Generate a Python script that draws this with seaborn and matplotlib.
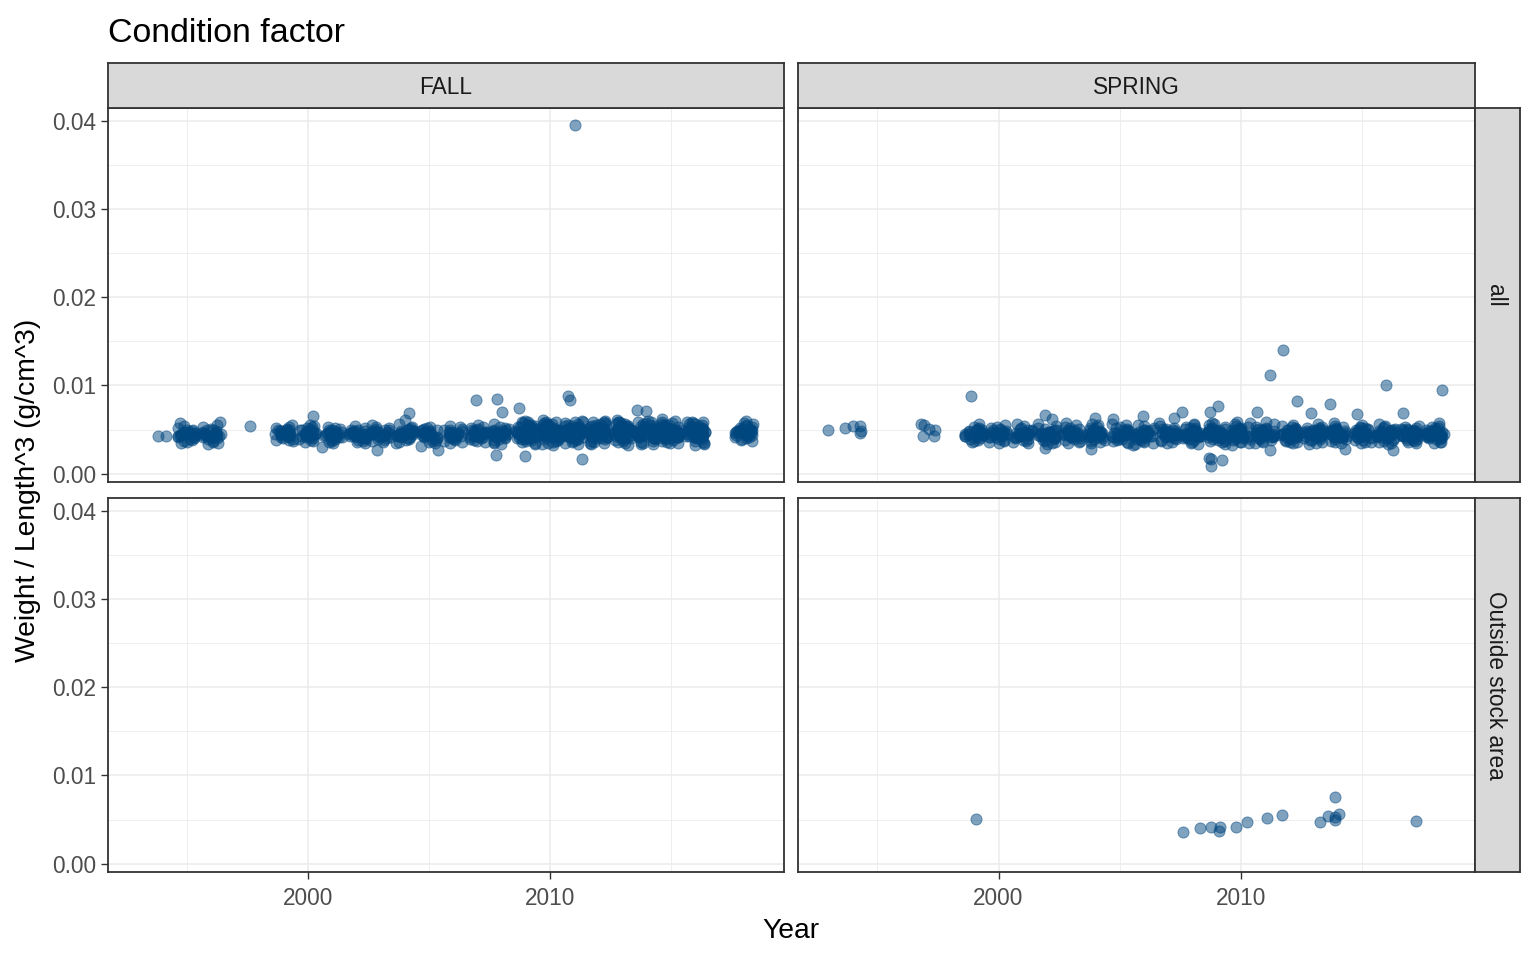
import matplotlib
matplotlib.use("Agg")
import matplotlib.pyplot as plt
import numpy as np
import pandas as pd
import seaborn as sns

# band of fish per survey year, values in 1e-4 g/cm^3
fall_all = {
    1995: "44 41 47 38 45 50 43 36 46 42 48 57 44 40 45 39 52 43 47 35 46 49 54 37",
    1996: "45 42 48 37 44 51 43 35 46 41 49 58 45 39 44 40 53 42 47 34 46 50 44 43 55 36",
    1999: "47 44 50 40 46 52 45 38 48 43 49 55 46 41 45 42 51 44 47 37 48 53 39 45 49",
    2000: "46 43 49 39 45 52 44 37 47 42 50 54 45 40 46 41 53 43 48 36 47 44 51 38 55 45",
    2001: "45 42 47 38 44 50 43 36 46 41 48 53 44 39 45 40 51 42 46 35 47 43 49 37 52 44",
    2002: "44 41 48 37 45 49 43 35 46 40 47 54 44 38 45 41 50 42 47 36 46 43 44 52 39 48",
    2003: "45 43 49 38 46 51 44 37 47 42 48 55 45 40 46 41 52 43 48 36 47 44 50 39 53 45",
    2004: "46 43 48 39 45 52 44 36 47 42 50 56 45 40 46 41 53 43 48 35 47 44 45 51 38 49",
    2005: "45 42 48 38 44 50 43 35 46 41 49 53 44 39 45 40 51 42 47 36 46 52 37 44 48",
    2006: "44 41 47 37 45 51 43 36 46 40 48 54 44 38 45 41 50 42 47 35 46 43 53 39 49 45",
    2007: "45 42 49 38 46 52 44 37 47 41 48 55 45 39 46 42 51 43 48 36 47 44 50 40 53 45",
    2008: "46 43 48 39 45 51 44 36 47 42 50 56 45 40 46 41 52 43 48 35 47 44 45 34 53 49 38",
    2009: "47 44 51 40 48 55 46 38 49 43 52 58 47 41 48 42 54 45 50 36 49 46 47 44 53 39 60 45 50 43 57 34 "
          "46 48 42 51 44 47 39 50 45 53 56 37 49 41 52 46 35 58 43 48 54 40",
    2010: "48 45 50 41 47 56 46 37 49 44 53 59 47 42 48 43 55 45 51 35 50 46 48 44 52 40 61 46 49 42 56 33 "
          "47 45 41 52 48 44 38 50 46 54 57 36 49 43 51 47 34 59 44 50 55 39",
    2011: "47 44 52 40 48 54 46 38 50 43 51 58 47 41 49 42 55 45 50 36 48 46 47 44 53 39 59 45 51 43 57 35 "
          "46 48 43 50 45 47 40 52 44 49 56 37 48 42 53 46 34 60 45 49 54 41",
    2012: "48 45 51 41 47 55 46 37 49 44 52 60 48 42 48 43 54 46 50 35 49 47 47 44 53 40 58 45 50 42 56 34 "
          "47 45 42 51 46 48 39 50 44 53 57 36 50 43 52 47 35 59 44 48 55 40",
    2013: "47 44 50 40 48 56 46 38 49 43 53 59 47 41 48 42 55 45 51 36 50 46 48 44 52 39 61 46 49 43 57 33 "
          "46 48 42 50 45 47 40 51 44 54 56 37 49 42 52 46 35 58 45 50 54 41",
    2014: "48 45 52 41 47 54 46 37 50 44 51 58 47 42 49 43 54 45 50 35 48 46 47 44 53 40 60 45 51 42 56 34 "
          "47 45 43 52 46 48 39 50 44 49 57 36 48 43 53 47 34 59 44 49 55 40",
    2015: "47 44 51 40 48 55 46 38 49 43 52 59 48 41 48 42 55 46 50 36 49 47 48 44 53 39 62 45 50 43 57 35 "
          "46 48 42 51 45 47 40 50 44 53 56 37 49 42 52 46 35 60 45 50 54 41",
    2016: "48 45 50 41 47 56 46 37 49 44 53 58 47 42 48 43 54 45 51 35 50 46 47 44 52 40 59 46 49 42 56 33 "
          "47 45 43 51 46 48 39 50 44 52 57 36 48 43 53 47 34 58 44 49 55 40",
    2018: "48 45 51 41 47 55 46 38 49 44 52 60 47 42 48 43 54 45 50 37 49 46 57 40 47 51 44 53 39 48 56 46",
}
spring_all = {
    1999: "46 43 49 39 45 53 44 37 47 42 50 56 45 40 46 41 52 43 48 36 44 51 38 47",
    2000: "45 42 48 38 46 51 44 36 47 41 49 55 45 39 46 42 52 43 47 35 44 46 50 37 53",
    2001: "45 43 49 38 44 52 44 37 46 41 48 56 45 40 46 42 51 43 47 36 45 44 50 39 54 35",
    2002: "44 42 48 37 45 50 43 35 46 40 47 54 44 39 45 41 51 42 46 36 44 43 49 38 47 45 52 56 34",
    2003: "45 43 47 38 46 52 44 36 47 41 49 55 45 40 46 42 50 43 48 35 44 45 51 39 46 43 53 37 57",
    2004: "46 42 48 39 45 51 43 37 47 41 50 56 45 40 46 42 52 43 47 36 44 45 49 38 53 46 44 55 35",
    2005: "45 43 49 38 44 52 44 36 46 42 48 55 45 39 46 41 51 43 47 35 44 45 50 39 47 43 53 37 56",
    2006: "44 42 48 37 45 50 43 35 47 40 49 54 44 38 45 41 52 42 46 36 44 43 50 39 47 45 43 55 34",
    2007: "45 43 47 38 46 51 44 37 46 41 48 57 45 40 46 42 51 43 48 36 44 45 49 39 52 46 44 54 35",
    2008: "46 42 48 39 45 52 43 36 47 41 50 55 45 40 46 42 52 43 47 35 44 45 50 38 53 44 46 43 48 56 34 51",
    2009: "45 43 49 38 46 51 44 37 46 42 48 56 45 39 46 41 51 43 47 36 44 45 49 39 52 44 47 42 34 55 "
          "45 47 43 50 44 46 40 53 37 48 57 41",
    2010: "46 42 48 39 45 52 43 36 47 41 50 57 45 40 46 42 52 43 48 35 44 45 50 38 53 44 47 43 33 56 "
          "46 44 48 42 51 45 39 54 36 49 58 41",
    2011: "45 43 47 38 46 51 44 37 46 42 49 56 45 40 46 41 51 43 47 36 44 45 49 39 52 44 58 46 43 48 "
          "53 35 50 41",
    2012: "44 42 48 37 45 50 43 35 47 40 48 55 44 38 45 41 52 42 46 36 44 43 50 39 53 45 47 44 49 "
          "54 36 51 42",
    2013: "45 43 49 38 46 52 44 36 46 42 48 56 45 39 46 41 51 43 48 35 44 45 49 38 52 44 47 42 46 "
          "53 34 50 40",
    2014: "46 42 48 39 45 51 43 37 47 41 50 57 45 40 46 42 52 43 47 36 44 45 50 39 53 44 46 48 43 "
          "54 35 49 41",
    2015: "45 43 47 38 46 52 44 36 46 42 49 55 45 40 46 41 51 43 47 35 44 45 49 38 52 44 47 43 46 "
          "53 36 50 40",
    2016: "44 42 48 37 45 50 43 35 47 40 48 56 44 38 45 41 52 42 46 36 44 43 50 39 53 45 46 44 48 "
          "54 34 51 41",
    2017: "45 43 49 38 46 51 44 37 46 42 48 54 45 39 46 41 51 43 48 36 44 45 49 38 52 44 47 43 46 "
          "53 35 50 40",
    2018: "46 42 48 39 45 52 43 36 47 41 50 57 45 40 46 42 52 43 47 35 44 45 50 39 53 44 46 48 43 "
          "54 36 49 41",
}

# isolated fish, read at their plotted (fractional) year
fall_all_x = [1993.8, 1994.1, 1997.6, 1998.65, 2000.2, 2000.55, 2002.86, 2004.17, 2004.0,
              2004.68, 2005.37, 2006.93, 2007.82, 2008.0, 2008.73, 2007.77, 2008.97,
              2010.73, 2010.83, 2011.03, 2011.3, 2013.6, 2013.97]
fall_all_y = [0.0043, 0.0043, 0.00536, 0.00385, 0.00657, 0.0030, 0.00272, 0.00688, 0.0061,
              0.0031, 0.00264, 0.00838, 0.00846, 0.0070, 0.00744, 0.00215, 0.00196,
              0.00884, 0.00838, 0.0395, 0.00166, 0.00718, 0.00706]
spring_all_x = [1992.96, 1993.67, 1993.98, 1994.3, 1994.26, 1994.33, 1996.8, 1996.93, 1997.14,
                1997.38, 1996.9, 1997.34, 1998.86, 2001.9, 2002.19, 2004.0, 2004.74, 2001.9,
                2003.83, 2005.55, 2005.96, 2007.23, 2007.59, 2008.72, 2009.06, 2008.79,
                2008.79, 2009.24, 2008.7, 2010.65, 2011.2, 2011.2, 2011.75, 2012.34, 2012.9,
                2013.69, 2014.3, 2014.78, 2015.98, 2016.27, 2016.68, 2018.29]
spring_all_y = [0.0049, 0.00514, 0.00536, 0.00536, 0.0046, 0.0048, 0.00563, 0.00547, 0.00506,
                0.00499, 0.0043, 0.00423, 0.00876, 0.00669, 0.0062, 0.0063, 0.0062, 0.0029,
                0.0028, 0.0032, 0.0065, 0.0063, 0.00699, 0.00699, 0.00763, 0.00166,
                0.0009, 0.0015, 0.0018, 0.00703, 0.01114, 0.00264, 0.01397, 0.0082, 0.00687,
                0.0079, 0.00283, 0.00676, 0.0100, 0.00264, 0.00687, 0.00944]
spring_out_x = [1999.05, 2007.62, 2008.33, 2008.79, 2009.13, 2009.1, 2009.82, 2010.26, 2011.1,
                2011.72, 2013.29, 2013.6, 2013.88, 2014.06, 2013.91, 2013.88, 2017.22]
spring_out_y = [0.00511, 0.00356, 0.00401, 0.00413, 0.00413, 0.00375, 0.00413, 0.0047, 0.00515,
                0.00553, 0.00477, 0.00538, 0.00753, 0.00564, 0.00526, 0.00496, 0.00481]

seasons = ["FALL", "SPRING"]
areas = ["all", "Outside stock area"]

sns.set_style("white")
plt.rcParams["font.family"] = ["Liberation Sans", "DejaVu Sans"]

PT_COL = "#00467F"
PT_SIZE = 8.0
W, H = 1536, 960


def box(x0, y0, x1, y1):
    return [x0 / W, 1 - y1 / H, (x1 - x0) / W, (y1 - y0) / H]


def band_frame(d):
    rows = [(yr, int(v) / 1e4) for yr, s in d.items() for v in s.split()]
    return pd.DataFrame(rows, columns=["year", "k"])


def strip(rect, label, rot=0):
    sa = fig.add_axes(rect)
    sa.set_facecolor("#D9D9D9")
    sa.set_xticks([])
    sa.set_yticks([])
    for sp in sa.spines.values():
        sp.set_color("#333333")
        sp.set_linewidth(1.3)
    sa.text(0.5 if rot == 0 else 0.45, 0.45 if rot == 0 else 0.5, label, rotation=rot,
            ha="center", va="center", fontsize=16.3, color="#1A1A1A", transform=sa.transAxes)


fig = plt.figure(figsize=(15.36, 9.6), dpi=100)
np.random.seed(11)

cols = [(108, 784), (798, 1475)]
rows = [(108, 482), (498, 872)]

bands = {("FALL", "all"): fall_all, ("SPRING", "all"): spring_all}
singles = {("FALL", "all"): (fall_all_x, fall_all_y),
           ("SPRING", "all"): (spring_all_x, spring_all_y),
           ("SPRING", "Outside stock area"): (spring_out_x, spring_out_y)}

for r, area in enumerate(areas):
    for c, season in enumerate(seasons):
        x0, x1 = cols[c]
        y0, y1 = rows[r]
        ax = fig.add_axes(box(x0, y0, x1, y1))
        key = (season, area)
        if key in bands:
            sns.stripplot(data=band_frame(bands[key]), x="year", y="k", native_scale=True,
                          jitter=0.4, color=PT_COL, alpha=0.5, size=PT_SIZE, linewidth=0.7,
                          edgecolor=PT_COL, ax=ax, zorder=3)
        if key in singles:
            sx, sy = singles[key]
            sns.scatterplot(x=sx, y=sy, color=PT_COL, alpha=0.5, s=PT_SIZE ** 2, linewidth=0.7,
                            edgecolor=PT_COL, ax=ax, zorder=3)
        ax.set_xlim(1991.72, 2019.67)
        ax.set_ylim(-0.00095, 0.04147)
        ax.set_xticks([2000, 2010])
        ax.set_xticks([1995, 2005, 2015], minor=True)
        ax.set_yticks([0.0, 0.01, 0.02, 0.03, 0.04])
        ax.set_yticks([0.005, 0.015, 0.025, 0.035], minor=True)
        ax.set_yticklabels(["0.00", "0.01", "0.02", "0.03", "0.04"])
        ax.grid(True, which="major", color="#EBEBEB", lw=1.1, zorder=0)
        ax.grid(True, which="minor", color="#EBEBEB", lw=0.6, zorder=0)
        ax.set_axisbelow(True)
        ax.set_xlabel("")
        ax.set_ylabel("")
        for sp in ax.spines.values():
            sp.set_color("#333333")
            sp.set_linewidth(1.3)
        ax.tick_params(which="major", direction="out", length=5, width=1.0, color="#333333",
                       labelsize=16.3, labelcolor="#4D4D4D")
        ax.tick_params(axis="x", pad=6)
        ax.tick_params(axis="y", pad=3.5)
        ax.tick_params(which="minor", length=0)
        ax.tick_params(axis="x", bottom=(r == 1), labelbottom=(r == 1))
        ax.tick_params(axis="y", left=(c == 0), labelleft=(c == 0))

        if c == 1:
            strip(box(1475, y0, 1520, y1), area, rot=-90)

for c, season in enumerate(seasons):
    x0, x1 = cols[c]
    strip(box(x0, 63, x1, 108), season)

fig.text(108 / W, 1 - 41.5 / H, "Condition factor", fontsize=24.4, color="black",
         ha="left", va="baseline")
fig.text(791 / W, 1 - 931 / H, "Year", fontsize=20.3, color="black",
         ha="center", va="center")
fig.text(28 / W, 1 - 490 / H, "Weight / Length^3 (g/cm^3)", fontsize=20.3, color="black",
         ha="center", va="center", rotation=90)

fig.savefig("out.png", dpi=100)
